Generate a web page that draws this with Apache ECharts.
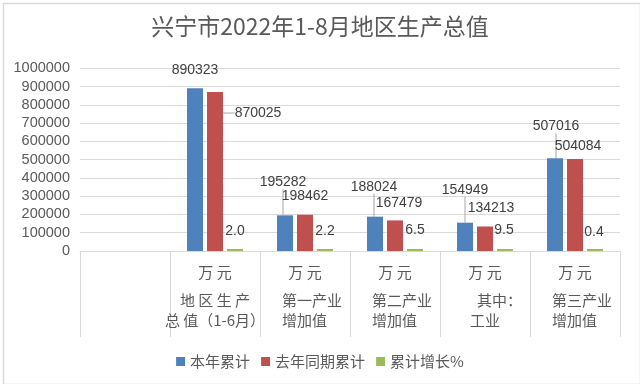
<!DOCTYPE html>
<html>
<head>
<meta charset="utf-8">
<script src="https://cdn.jsdelivr.net/npm/echarts@6/dist/echarts.min.js"></script>
<style>html,body{margin:0;padding:0;background:#fff}#c{width:640px;height:384px}</style>
</head>
<body>
<div id="c"></div>
<script>
const titleText = '兴宁市2022年1-8月地区生产总值';
const units = ['', '万 元', '万 元', '万 元', '万 元', '万 元'];
const names = ['', '地 区 生 产\n总 值（1-6月）', '第一产业\n增加值', '第二产业\n增加值', ' 其中：\n工业', '第三产业\n增加值'];
const seriesNames = ['本年累计', '去年同期累计', '累计增长%'];
const thisYear = [null, 890323, 195282, 188024, 154949, 507016];
const lastYear = [null, 870025, 198462, 167479, 134213, 504084];
const growth = [null, 2.0, 2.2, 6.5, 9.5, 0.4];
const yTicks = { min: 0, max: 1000000, interval: 100000 };

const categories = units.map((u, i) => (u + '|' + names[i]));

// label nudges [dx, dy] per series / category (layout only)
const labelShift = [
  [[0,0],[0,-6],[-2,-21],[-1,-18],[0,-21],[1,-20]],
  [[0,0],[43,33],[0,-7],[4,-5],[6,-6],[3,-1]],
  [[0,0],[0,-6],[0,-6],[0,-7],[-1,-7],[-1,-5]]
];
const withLine = [[2,3,4,5],[1],[]];

const colors = ['#4f81bd', '#c0504d', '#9bbb59'];
const FONT = '"Noto Sans CJK SC", "Noto Sans", sans-serif';
const NUMFONT = '"Liberation Sans", Arial, sans-serif';

function mkData(arr, si) {
  return arr.map((v, i) => {
    if (v === null) return '-';
    const item = { value: v };
    if (withLine[si].indexOf(i) >= 0) item.labelLine = { show: true };
    return item;
  });
}

const chart = echarts.init(document.getElementById('c'));
const seriesData = [thisYear, lastYear, growth];
chart.setOption({
  animation: false,
  color: colors,
  title: {
    text: titleText, left: 'center', top: 15, padding: 0,
    textStyle: { fontFamily: FONT, fontSize: 23, fontWeight: 'normal', color: '#595959' }
  },
  legend: {
    data: seriesNames, left: 'center', top: 349, itemWidth: 9, itemHeight: 9, itemGap: 11,
    icon: 'rect',
    textStyle: { fontFamily: FONT, fontSize: 15, color: '#595959' }
  },
  grid: { left: 80, right: 20, top: 68.3, bottom: 133 },
  xAxis: {
    type: 'category', data: categories, boundaryGap: true,
    axisLine: { show: true, lineStyle: { color: '#d9d9d9', width: 1 } },
    axisTick: { show: true, interval: 0, length: 86, lineStyle: { color: '#d9d9d9' } },
    axisLabel: {
      interval: 0, margin: 3, color: '#595959', fontFamily: FONT, fontSize: 15,
      formatter: function (val, idx) {
        const u = units[idx], n = names[idx];
        if (!u && !n) return '';
        const lines = n.split('\n');
        let st1 = 'l', st2 = 'l';
        if (idx === 1) { st1 = 'c'; st2 = 'c'; }
        if (idx === 4) { st1 = 'q1'; st2 = 'q2'; }
        return '{u|' + u + '}\n{' + st1 + '|' + lines[0].trim() + '}\n{' + st2 + '|' + lines[1] + '}';
      },
      rich: {
        u: { fontFamily: FONT, fontSize: 15, lineHeight: 36, color: '#595959', align: 'center' },
        c: { fontFamily: FONT, fontSize: 15, lineHeight: 20, color: '#595959', width: 96, align: 'center' },
        l: { fontFamily: FONT, fontSize: 15, lineHeight: 20, color: '#595959', width: 58, padding: [0,0,0,12], align: 'left' },
        q1: { fontFamily: FONT, fontSize: 15, lineHeight: 20, color: '#595959', width: 43, padding: [0,0,0,27], align: 'left' },
        q2: { fontFamily: FONT, fontSize: 15, lineHeight: 20, color: '#595959', width: 50, padding: [0,0,0,20], align: 'left' }
      }
    }
  },
  yAxis: {
    type: 'value', min: yTicks.min, max: yTicks.max, interval: yTicks.interval,
    axisLine: { show: false }, axisTick: { show: false },
    splitLine: { lineStyle: { color: '#d9d9d9', width: 1 } },
    axisLabel: { margin: 10, color: '#595959', fontFamily: NUMFONT, fontSize: 14.5,
      formatter: function (v) { return String(v); } }
  },
  series: seriesData.map((arr, si) => ({
    name: seriesNames[si], type: 'bar', data: mkData(arr, si),
    barWidth: 16, barGap: '25%', barMinHeight: si === 2 ? 2 : 0,
    label: {
      show: true, position: 'top', distance: 5, color: '#404040', fontFamily: NUMFONT, fontSize: 14,
      formatter: function (p) { return si === 2 ? Number(p.value).toFixed(1) : String(p.value); }
    },
    labelLine: { show: false, lineStyle: { color: '#a6a6a6', width: 1 } },
    labelLayout: function (p) {
      const s = labelShift[si][p.dataIndex] || [0, 0];
      return { dx: s[0], dy: s[1] };
    }
  })),
  graphic: [{
    type: 'rect', left: 1, top: 1, silent: true,
    shape: { width: 637, height: 381 },
    style: { fill: 'none', stroke: '#d9d9d9', lineWidth: 1.5 }
  }]
});
</script>
</body>
</html>
